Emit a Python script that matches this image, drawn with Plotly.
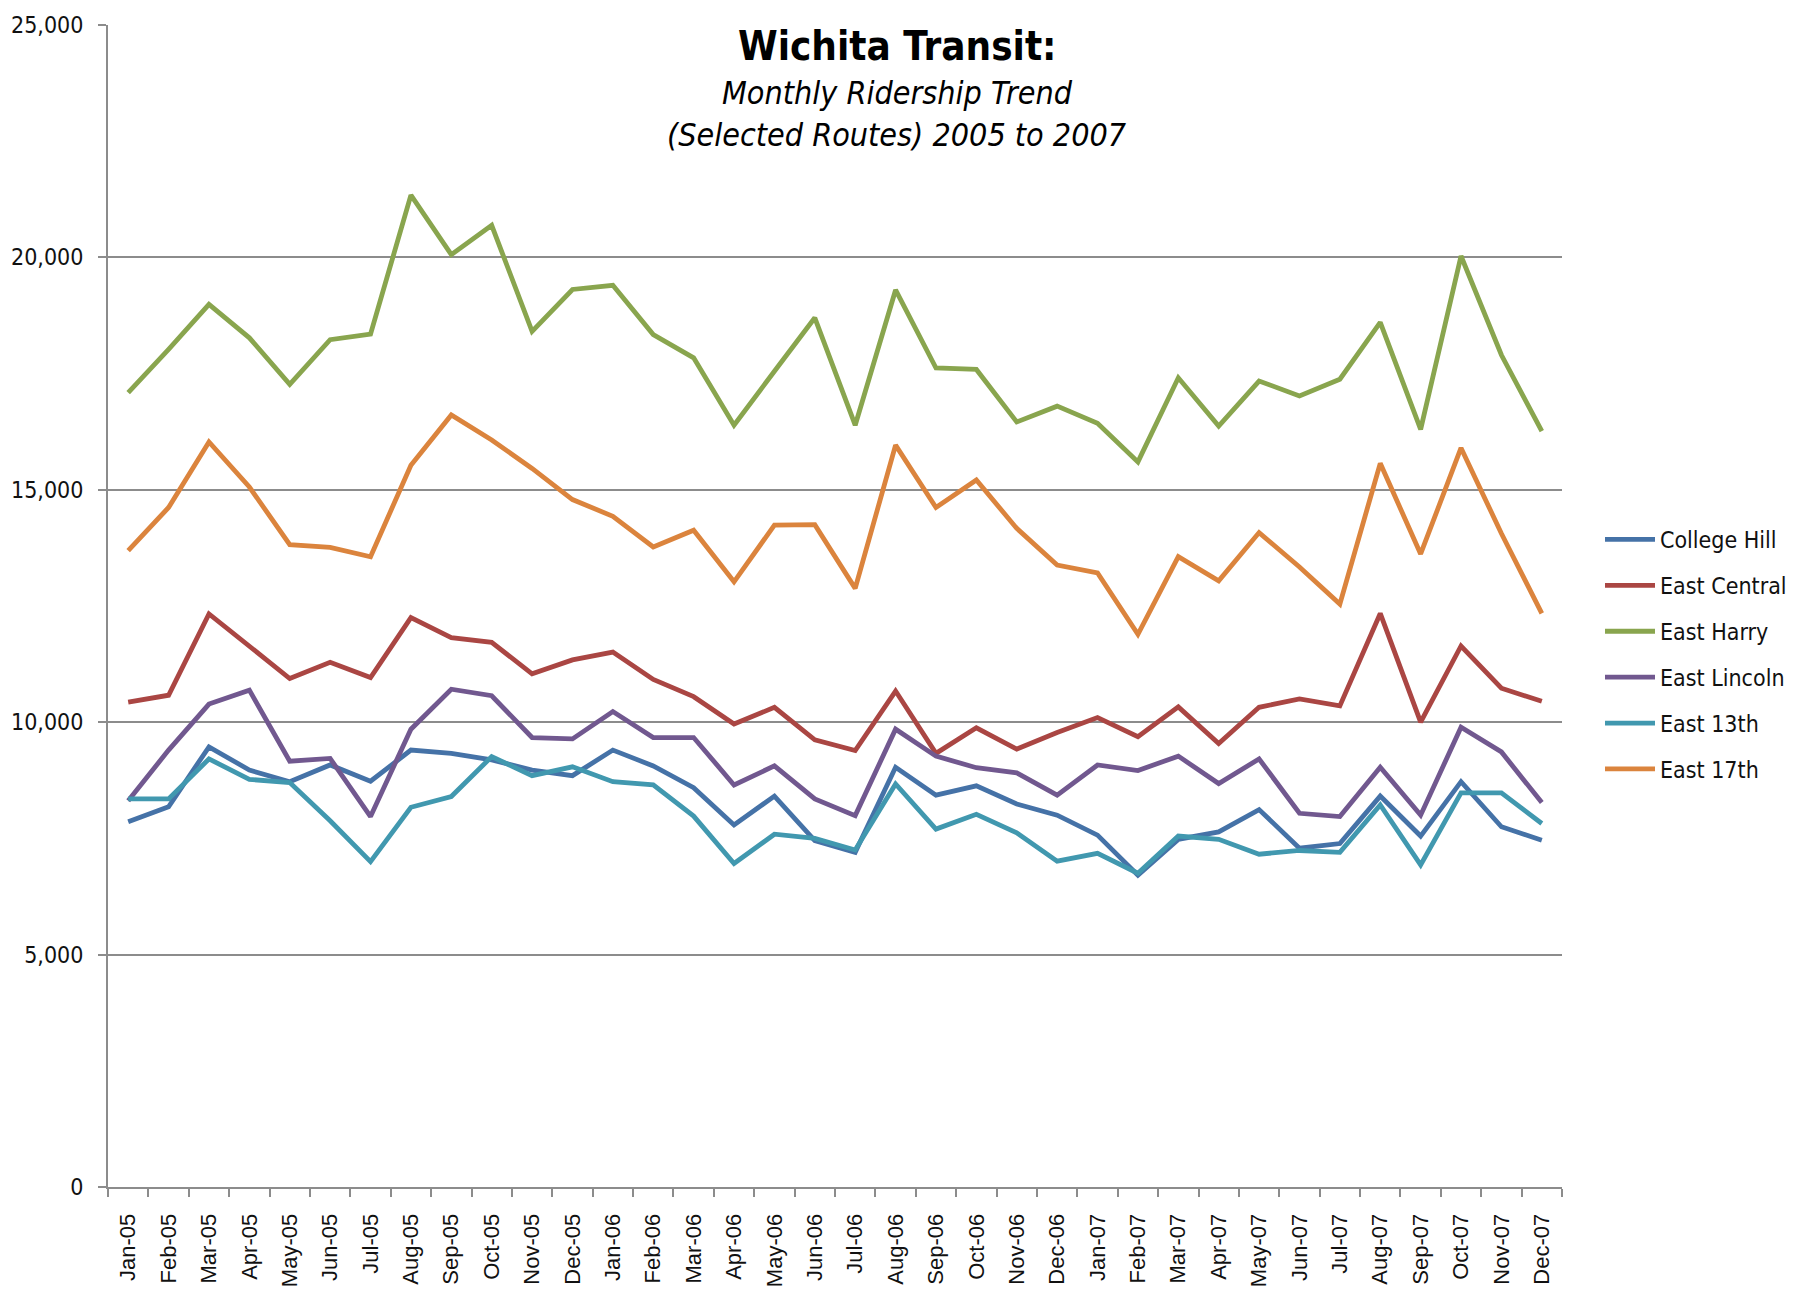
import plotly.graph_objects as go

months = ["Jan-05","Feb-05","Mar-05","Apr-05","May-05","Jun-05","Jul-05","Aug-05","Sep-05","Oct-05","Nov-05","Dec-05",
          "Jan-06","Feb-06","Mar-06","Apr-06","May-06","Jun-06","Jul-06","Aug-06","Sep-06","Oct-06","Nov-06","Dec-06",
          "Jan-07","Feb-07","Mar-07","Apr-07","May-07","Jun-07","Jul-07","Aug-07","Sep-07","Oct-07","Nov-07","Dec-07"]

college_hill = [7860, 8180, 9470, 8970, 8720, 9080, 8730, 9400, 9330, 9190, 8970, 8850,
                9400, 9060, 8590, 7790, 8410, 7450, 7200, 9030, 8430, 8630, 8240, 8000,
                7570, 6710, 7480, 7640, 8120, 7290, 7390, 8410, 7550, 8720, 7750, 7460]

east_central = [10430, 10580, 12330, 11620, 10940, 11290, 10960, 12250, 11820, 11720, 11040, 11340,
                11510, 10920, 10550, 9960, 10320, 9620, 9390, 10670, 9330, 9880, 9420, 9780,
                10100, 9690, 10330, 9540, 10320, 10500, 10350, 12340, 10000, 11640, 10730, 10450]

east_harry = [17090, 18020, 18990, 18270, 17270, 18230, 18350, 21340, 20060, 20690, 18410, 19310,
              19400, 18340, 17840, 16390, 17550, 18700, 16390, 19300, 17620, 17590, 16460, 16800,
              16430, 15600, 17410, 16370, 17340, 17020, 17380, 18600, 16300, 20030, 17900, 16260]

east_lincoln = [8310, 9400, 10390, 10690, 9160, 9220, 7970, 9850, 10710, 10570, 9670, 9640,
                10230, 9670, 9670, 8650, 9060, 8350, 7990, 9850, 9270, 9020, 8910, 8430,
                9080, 8960, 9270, 8680, 9210, 8040, 7970, 9030, 8000, 9890, 9360, 8270]

east_13th = [8350, 8350, 9210, 8770, 8700, 7880, 7000, 8170, 8400, 9260, 8850, 9040,
             8720, 8650, 7980, 6960, 7590, 7500, 7250, 8670, 7700, 8020, 7620, 7010,
             7180, 6750, 7550, 7480, 7160, 7240, 7200, 8220, 6930, 8480, 8480, 7820]

east_17th = [13690, 14620, 16030, 15060, 13820, 13760, 13560, 15530, 16610, 16070, 15460, 14790,
             14430, 13770, 14130, 13020, 14240, 14250, 12880, 15960, 14620, 15210, 14170, 13380,
             13210, 11890, 13560, 13040, 14080, 13340, 12540, 15570, 13620, 15900, 14060, 12340]

series_names = ["College Hill", "East Central", "East Harry", "East Lincoln", "East 13th", "East 17th"]
series_values = [college_hill, east_central, east_harry, east_lincoln, east_13th, east_17th]
series_colors = ["#4572A7", "#AA4643", "#89A54E", "#71588F", "#4198AF", "#DB843D"]

y_tick_vals = [0, 5000, 10000, 15000, 20000, 25000]
y_tick_text = ["0", "5,000", "10,000", "15,000", "20,000", "25,000"]

title_main = "Wichita Transit:"
title_sub1 = "Monthly Ridership Trend"
title_sub2 = "(Selected Routes) 2005 to 2007"

NARROW = "Liberation Sans Narrow, Arial Narrow, DejaVu Sans Condensed, sans-serif"
GRID = "#8c8c8c"

fig = go.Figure()
for i, (name, vals, col) in enumerate(zip(series_names, series_values, series_colors)):
    fig.add_trace(go.Scatter(
        x=months, y=vals, name=name, mode="lines",
        line=dict(color=col, width=4.8),
        legendgroup=f"g{i}",
    ))

# page body has an 8px default margin; compensate so the plot area lands at page coords
OFF = 8
W, H = 1781, 1291
PLOT_L, PLOT_R, PLOT_T, PLOT_B = 108, 1562, 25, 1187   # page coordinates
L = PLOT_L - OFF
T = PLOT_T - OFF
R = W - (PLOT_R - OFF)
B = H - (PLOT_B - OFF)
plot_h = PLOT_B - PLOT_T
plot_w = PLOT_R - PLOT_L

def py(y_page):
    return (PLOT_B - y_page) / plot_h

def px(x_page):
    return (x_page - PLOT_L) / plot_w

title_x = px(897)

fig.add_annotation(text=f"<b>{title_main}</b>", x=title_x, y=py(46), xref="paper", yref="paper",
                   showarrow=False, xanchor="center", yanchor="middle",
                   font=dict(family=NARROW, size=40, color="#000000"))
fig.add_annotation(text=f"<i>{title_sub1}</i>", x=title_x, y=py(93), xref="paper", yref="paper",
                   showarrow=False, xanchor="center", yanchor="middle",
                   font=dict(family=NARROW, size=32, color="#000000"))
fig.add_annotation(text=f"<i>{title_sub2}</i>", x=title_x, y=py(135), xref="paper", yref="paper",
                   showarrow=False, xanchor="center", yanchor="middle",
                   font=dict(family=NARROW, size=32, color="#000000"))

fig.update_layout(
    width=W, height=H, autosize=False,
    margin=dict(l=L, r=R, t=T, b=B, pad=0, autoexpand=False),
    paper_bgcolor="white", plot_bgcolor="white",
    showlegend=True,
    legend=dict(x=px(1600), y=py(518), xanchor="left", yanchor="top",
                font=dict(family=NARROW, size=23, color="#111111"),
                tracegroupgap=13, bgcolor="rgba(0,0,0,0)", itemwidth=50),
    xaxis=dict(type="category", categoryorder="array", categoryarray=months,
               range=[-0.5, len(months) - 0.5], automargin=False,
               tickangle=-90, tickson="boundaries", ticks="outside", ticklen=8, tickwidth=1.5,
               tickcolor=GRID, showline=True, linecolor=GRID, linewidth=2,
               showgrid=False, zeroline=False, ticklabelstandoff=16,
               tickfont=dict(family="Liberation Sans, Arial, sans-serif", size=22, color="#111111")),
    yaxis=dict(range=[0, 25000], tickvals=y_tick_vals, ticktext=y_tick_text, automargin=False,
               ticks="outside", ticklen=8, tickwidth=1.5, tickcolor=GRID,
               showline=True, linecolor=GRID, linewidth=2, ticklabelstandoff=10,
               showgrid=True, gridcolor=GRID, gridwidth=1.5, zeroline=False,
               tickfont=dict(family=NARROW, size=23, color="#111111")),
)

fig.write_html("out.html")
